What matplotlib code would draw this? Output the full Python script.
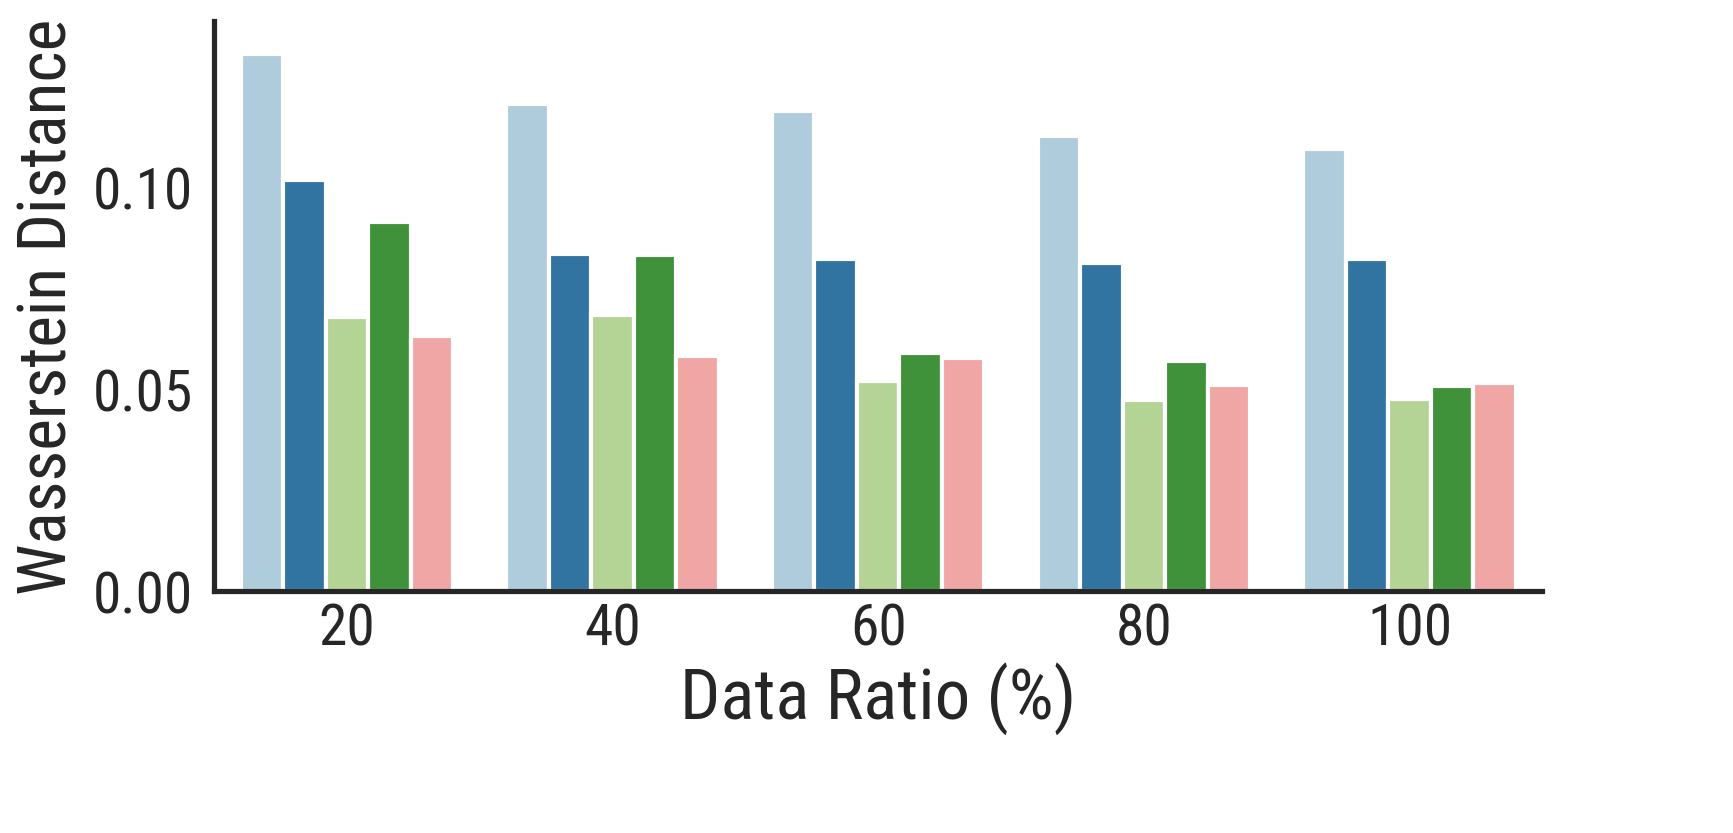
import matplotlib
matplotlib.use("Agg")
import matplotlib.pyplot as plt
import numpy as np
import seaborn as sns

# data
ratios = ["20", "40", "60", "80", "100"]
series_a = [0.1327, 0.1205, 0.1186, 0.1126, 0.1094]
series_b = [0.1015, 0.0834, 0.0822, 0.0812, 0.0822]
series_c = [0.0678, 0.0683, 0.0520, 0.0473, 0.0475]
series_d = [0.0913, 0.0832, 0.0589, 0.0569, 0.0507]
series_e = [0.0631, 0.0582, 0.0577, 0.0510, 0.0515]

sns.set_style("white")
plt.rcParams['font.family'] = ['Roboto Condensed', 'Liberation Sans', 'DejaVu Sans']

colors = sns.color_palette("Paired", 5, desat=0.75)

fig = plt.figure(figsize=(1733 / 300, 834 / 300), dpi=300)
ax = fig.add_axes([0.1235, 0.290, 0.7665, 0.684])

all_series = [series_a, series_b, series_c, series_d, series_e]
x = np.arange(len(ratios))
n = len(all_series)
w = 0.8 / n
for i, vals in enumerate(all_series):
    ax.bar(x - 0.4 + w * (i + 0.5), vals, width=w, color=colors[i],
           edgecolor="white", linewidth=1.0)

ax.set_xlim(-0.5, 4.5)
ax.set_ylim(0, 0.141)
ax.set_xticks(x)
ax.set_xticklabels(ratios)
ax.set_yticks([0.0, 0.05, 0.10])
ax.set_yticklabels(["0.00", "0.05", "0.10"])
ax.tick_params(axis="both", labelsize=13.8, length=0, colors=".15")
ax.tick_params(axis="x", pad=2.5)
ax.tick_params(axis="y", pad=5)

ax.set_xlabel("Data Ratio (%)", fontsize=17, color=".15", labelpad=1)
ax.set_ylabel("Wasserstein Distance", fontsize=16.2, color=".15", labelpad=3)

for s in ["top", "right"]:
    ax.spines[s].set_visible(False)
for s in ["left", "bottom"]:
    ax.spines[s].set_linewidth(1.25)
    ax.spines[s].set_color(".15")

fig.savefig("out.png", dpi=300)
